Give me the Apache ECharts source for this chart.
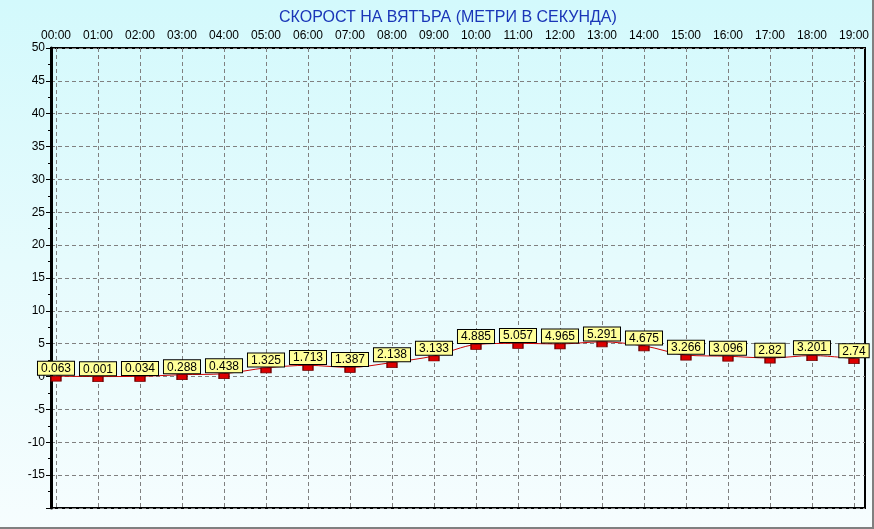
<!DOCTYPE html>
<html>
<head>
<meta charset="utf-8">
<script src="https://cdn.jsdelivr.net/npm/echarts@6/dist/echarts.min.js"></script>
<style>
html,body{margin:0;padding:0;background:#fff;}
#wrap{width:872px;height:527px;border-right:2px solid #808080;border-bottom:2px solid #808080;
background:linear-gradient(to bottom,#d3f9fc 0%,#e6fbfd 50%,#f6fdfe 100%);}
#c{width:872px;height:527px;}
</style>
</head>
<body>
<div id="wrap"><div id="c"></div></div>
<script>
var titleText = 'СКОРОСТ НА ВЯТЪРА (МЕТРИ В СЕКУНДА)';
var hours = ['00:00','01:00','02:00','03:00','04:00','05:00','06:00','07:00','08:00','09:00',
             '10:00','11:00','12:00','13:00','14:00','15:00','16:00','17:00','18:00','19:00'];
var windSpeed = [0.063, 0.001, 0.034, 0.288, 0.438, 1.325, 1.713, 1.387, 2.138, 3.133,
                 4.885, 5.057, 4.965, 5.291, 4.675, 3.266, 3.096, 2.82, 3.201, 2.74];
var yMin = -20, yMax = 50, yStep = 5;

var font = "'Liberation Sans', Arial, sans-serif";
var chart = echarts.init(document.getElementById('c'), null, {renderer:'canvas'});
chart.setOption({
  backgroundColor: 'transparent',
  animation: false,
  textStyle: {fontFamily: font},
  title: {
    text: titleText, left: 274, top: 5,
    textStyle: {color:'#1a36b8', fontSize:16, fontWeight:'normal', fontFamily: font}
  },
  grid: [
    {left:51, right:7, top:48, bottom:19, show:true, borderColor:'#000', borderWidth:2, backgroundColor:'transparent'},
    {left:56, right:11, top:48, bottom:19}
  ],
  xAxis: [
    {gridIndex:0, type:'value', min:0, max:1, show:false},
    {gridIndex:1, type:'category', data:hours, boundaryGap:false, position:'top',
     axisLine:{show:false}, axisTick:{show:false},
     axisLabel:{color:'#000', fontSize:12, margin:6, fontFamily:font},
     splitLine:{show:true, lineStyle:{color:'#808080', type:[4,3], width:1}}}
  ],
  yAxis: [
    {gridIndex:0, type:'value', min:yMin, max:yMax, interval:yStep,
     axisLine:{show:true, lineStyle:{color:'#000', width:3}},
     axisTick:{show:true, length:5, lineStyle:{color:'#000'}},
     minorTick:{show:true, splitNumber:2, length:3, lineStyle:{color:'#000'}},
     axisLabel:{color:'#000', fontSize:12, margin:6, fontFamily:font,
       formatter:function(v){ return v === yMin ? '' : String(v); }},
     splitLine:{show:true, lineStyle:{color:'#808080', type:[4,3], width:1}}},
    {gridIndex:1, type:'value', min:yMin, max:yMax, show:false, splitLine:{show:false}}
  ],
  series: [{
    type:'line', xAxisIndex:1, yAxisIndex:1, data:windSpeed,
    smooth:0.3, clip:false,
    symbol:'rect', symbolSize:[10,5], symbolOffset:[0,2.5], showAllSymbol:true,
    lineStyle:{color:'#cc0000', width:1},
    itemStyle:{color:'#dd0000', borderColor:'#700000', borderWidth:1},
    label:{show:true, position:'top', distance:1,
      formatter:function(p){ return String(p.value); },
      color:'#000', fontSize:12, fontFamily:font,
      backgroundColor:'#ffff99', borderColor:'#000', borderWidth:1,
      padding:[1,3,0,3]}
  }]
});
</script>
</body>
</html>
